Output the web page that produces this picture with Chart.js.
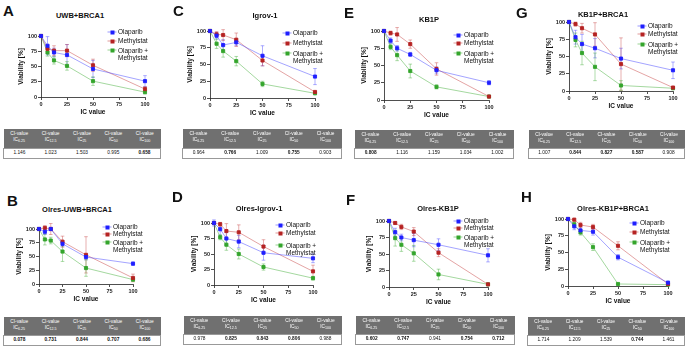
<!DOCTYPE html>
<html>
<head>
<meta charset="utf-8">
<script src="https://cdn.jsdelivr.net/npm/chart.js@4.4.0/dist/chart.umd.min.js"></script>
<style>
  body { margin: 0; width: 685px; height: 346px; position: relative; background: #fff; overflow: hidden;
         font-family: "Liberation Sans", Arial, sans-serif; color: #111; }
  .abs { position: absolute; }
  .letter { font-weight: bold; font-size: 15px; line-height: 15px; }
  .title { font-weight: bold; font-size: 7.5px; line-height: 8px; transform: translate(-50%, -50%); white-space: nowrap; }
  .leg { font-size: 6.5px; line-height: 7.5px; white-space: nowrap; transform: translateY(-50%); }
  .mk { position: absolute; width: 9px; height: 1px; transform: translate(-50%, -50%); }
  .mk i { position: absolute; left: 3px; top: -1.5px; width: 4px; height: 4px; }
  table.ci { position: absolute; border-collapse: collapse; table-layout: fixed; font-size: 4.8px; text-align: center; }
  table.ci th { background: #707070; color: #fff; font-weight: normal; line-height: 5.8px; padding: 0; }
  table.ci td { background: #fff; line-height: 6px; padding: 0; border-top: 1px solid #999; border-bottom: 1px solid #999; }
  table.ci td:first-child { border-left: 1px solid #999; }
  table.ci td:last-child { border-right: 1px solid #999; }
  table.ci sub { font-size: 3.6px; vertical-align: -1px; }
  b.v { font-weight: bold; }
</style>
</head>
<body>
<script>
// x positions (IC value) shared by every panel
const IC = [0, 6.25, 12.5, 25, 50, 100];
const xTicks = [0, 25, 50, 75, 100];
const yTicks = [0, 25, 50, 75, 100];
const icHeads = ["6.25", "12.5", "25", "50", "100"];

// A  UWB+BRCA1
const aOla = [100, 84, 73, 69, 46, 26];   const aOlaErr = [1, 15, 7, 17, 14, 9];
const aMet = [100, 79, 76, 76, 52, 13];   const aMetErr = [1, 5, 8, 10, 10, 4];
const aCom = [100, 73, 60, 51, 26, 8];    const aComErr = [1, 6, 6, 7, 7, 3];
const aCI = ["1.146", "1.023", "1.503", "0.995", "0.658"];
// C  Igrov-1
const cOla = [100, 93, 79, 83, 63, 32];   const cOlaErr = [2, 5, 8, 5, 15, 12];
const cMet = [100, 95, 94, 87, 56, 9];    const cMetErr = [1, 4, 8, 10, 8, 1];
const cCom = [100, 81, 70, 55, 21, 7];    const cComErr = [1, 7, 9, 7, 4, 1];
const cCI = ["0.964", "0.766", "1.009", "0.755", "0.903"];
// E  KB1P
const eOla = [100, 86, 75, 66, 43, 25];   const eOlaErr = [1, 4, 4, 3, 5, 3];
const eMet = [100, 97, 95, 81, 45, 5];    const eMetErr = [1, 3, 10, 6, 9, 1];
const eCom = [100, 77, 65, 42, 19, 5];    const eComErr = [1, 4, 8, 10, 3, 1];
const eCI = ["0.808", "1.116", "1.159", "1.034", "1.002"];
// G  KB1P+BRCA1
const gOla = [100, 78, 68, 62, 47, 30];   const gOlaErr = [1, 10, 14, 14, 15, 12];
const gMet = [100, 97, 91, 82, 39, 5];    const gMetErr = [1, 3, 7, 17, 38, 1];
const gCom = [100, 74, 55, 35, 8, 4];     const gComErr = [1, 10, 17, 20, 7, 1];
const gCI = ["1.007", "0.844", "0.827", "0.587", "0.908"];
// B  Olres-UWB+BRCA1
const bOla = [100, 95, 100, 73, 49, 37];  const bOlaErr = [1, 5, 3, 5, 5, 3];
const bMet = [100, 102, 100, 77, 53, 11]; const bMetErr = [1, 4, 10, 10, 33, 7];
const bCom = [100, 81, 79, 59, 29, 8];    const bComErr = [1, 10, 6, 18, 15, 3];
const bCI = ["0.078", "0.731", "0.844", "0.707", "0.686"];
// D  Olres-Igrov-1
const dOla = [100, 90, 75, 70, 52, 43];   const dOlaErr = [5, 10, 10, 10, 12, 7];
const dMet = [100, 98, 87, 85, 62, 22];   const dMetErr = [1, 3, 12, 12, 11, 10];
const dCom = [100, 77, 65, 50, 29, 11];   const dComErr = [1, 4, 9, 8, 5, 3];
const dCI = ["0.978", "0.825", "0.843", "0.806", "0.988"];
// F  Olres-KB1P
const fOla = [100, 83, 75, 71, 64, 48];   const fOlaErr = [1, 6, 5, 10, 9, 10];
const fMet = [100, 97, 91, 84, 52, 4];    const fMetErr = [1, 2, 4, 6, 6, 1];
const fCom = [100, 74, 64, 51, 19, 4];    const fComErr = [1, 12, 10, 12, 8, 1];
const fCI = ["0.602", "0.747", "0.941", "0.754", "0.712"];
// H  Olres-KB1P+BRCA1
const hOla = [100, 89, 83, 81, 43, 5];    const hOlaErr = [1, 5, 5, 5, 4, 2];
const hMet = [100, 99, 91, 88, 60, 3];    const hMetErr = [1, 2, 4, 4, 6, 1];
const hCom = [100, 92, 80, 58, 3, 2];     const hComErr = [1, 3, 4, 5, 1, 1];
const hCI = ["1.714", "1.209", "1.539", "0.744", "1.461"];

const BLUE = "#1f1fff", RED = "#b52222", GREEN = "#34a52c";
const BLUE_L = "rgba(70,70,255,0.55)", RED_L = "rgba(200,70,70,0.55)", GREEN_L = "rgba(70,175,60,0.55)";

// layout: plot box (x=0..100, y=0..100), letter, title, legend, table
const panels = [
  { letter: "A", lx: 3, ly: 3, title: "UWB+BRCA1", tx: 80, ty: 16, l: 41, r: 145, t: 36, b: 97,
    legX: 112, legY: [32, 41, 50], ola: aOla, olaE: aOlaErr, met: aMet, metE: aMetErr, com: aCom, comE: aComErr,
    ci: aCI, bold: [4], tab: [3, 129, 158, 19, 10] },
  { letter: "C", lx: 173, ly: 3, title: "Igrov-1", tx: 265, ty: 16, l: 210, r: 315, t: 31, b: 98,
    legX: 287, legY: [33, 43, 53], ola: cOla, olaE: cOlaErr, met: cMet, metE: cMetErr, com: cCom, comE: cComErr,
    ci: cCI, bold: [1, 3], tab: [182, 129, 160, 19, 10] },
  { letter: "E", lx: 344, ly: 5, title: "KB1P", tx: 429, ty: 20, l: 384, r: 489, t: 31, b: 100,
    legX: 458, legY: [35, 43, 53], ola: eOla, olaE: eOlaErr, met: eMet, metE: eMetErr, com: eCom, comE: eComErr,
    ci: eCI, bold: [0], tab: [354, 130, 160, 18, 10] },
  { letter: "G", lx: 516, ly: 5, title: "KB1P+BRCA1", tx: 603, ty: 15, l: 569, r: 673, t: 22, b: 91,
    legX: 642, legY: [26, 34, 44], ola: gOla, olaE: gOlaErr, met: gMet, metE: gMetErr, com: gCom, comE: gComErr,
    ci: gCI, bold: [1, 2, 3], tab: [528, 130, 157, 18, 10] },
  { letter: "B", lx: 7, ly: 193, title: "Olres-UWB+BRCA1", tx: 77, ty: 210, l: 39, r: 133, t: 229, b: 284,
    legX: 107, legY: [227, 234, 242], ola: bOla, olaE: bOlaErr, met: bMet, metE: bMetErr, com: bCom, comE: bComErr,
    ci: bCI, bold: [0, 1, 2, 3, 4], tab: [3, 317, 158, 18, 10] },
  { letter: "D", lx: 172, ly: 189, title: "Olres-Igrov-1", tx: 259, ty: 209, l: 214, r: 313, t: 223, b: 285,
    legX: 280, legY: [225, 233, 245], ola: dOla, olaE: dOlaErr, met: dMet, metE: dMetErr, com: dCom, comE: dComErr,
    ci: dCI, bold: [1, 2, 3], tab: [183, 316, 159, 18, 10] },
  { letter: "F", lx: 346, ly: 192, title: "Olres-KB1P", tx: 438, ty: 209, l: 389, r: 488, t: 221, b: 287,
    legX: 458, legY: [221, 228, 237], ola: fOla, olaE: fOlaErr, met: fMet, metE: fMetErr, com: fCom, comE: fComErr,
    ci: fCI, bold: [0, 1, 3, 4], tab: [355, 316, 160, 18, 10] },
  { letter: "H", lx: 521, ly: 189, title: "Olres-KB1P+BRCA1", tx: 613, ty: 209, l: 568, r: 668, t: 219, b: 286,
    legX: 634, legY: [223, 232, 242], ola: hOla, olaE: hOlaErr, met: hMet, metE: hMetErr, com: hCom, comE: hComErr,
    ci: hCI, bold: [3], tab: [527, 317, 158, 18, 10] },
];

const YW = 25, XH = 20, PT = 6, PR = 9;

// draws vertical SD bars with small caps, under the markers
const errorBars = {
  id: "errorBars",
  beforeDatasetsDraw(chart) {
    const { ctx, scales: { x, y } } = chart;
    chart.data.datasets.forEach((ds) => {
      ctx.save();
      ctx.strokeStyle = ds.borderColor;
      ctx.lineWidth = 0.8;
      ds.data.forEach((pt, i) => {
        const e = ds.errors[i];
        const px = x.getPixelForValue(pt.x);
        const y1 = y.getPixelForValue(pt.y + e), y2 = y.getPixelForValue(pt.y - e);
        ctx.beginPath();
        ctx.moveTo(px, y1); ctx.lineTo(px, y2);
        ctx.moveTo(px - 1.8, y1); ctx.lineTo(px + 1.8, y1);
        ctx.moveTo(px - 1.8, y2); ctx.lineTo(px + 1.8, y2);
        ctx.stroke();
      });
      ctx.restore();
    });
  },
};

function series(label, vals, errs, line, mark) {
  return {
    label: label,
    data: vals.map((v, i) => ({ x: IC[i], y: v })),
    errors: errs,
    borderColor: line,
    backgroundColor: mark,
    pointBackgroundColor: mark,
    pointBorderColor: mark,
    pointStyle: "rect",
    pointRadius: 2.2,
    borderWidth: 0.9,
    clip: false,
  };
}

function axis(title, ticks, fit) {
  return {
    type: "linear", min: 0, max: 100,
    afterBuildTicks: (s) => { s.ticks = ticks.map((v) => ({ value: v })); },
    afterFit: fit,
    ticks: { font: { size: 5.5, weight: "bold", family: "Liberation Sans" }, color: "#222", padding: 1, maxRotation: 0 },
    grid: { drawOnChartArea: false, tickLength: 3, color: "#222", lineWidth: 0.8 },
    border: { color: "#222", width: 0.8 },
    title: { display: true, text: title, color: "#111", font: { size: 6.5, weight: "bold", family: "Liberation Sans" }, padding: 1 },
  };
}

function add(cls, x, y, html) {
  const d = document.createElement("div");
  d.className = "abs " + cls;
  d.style.left = x + "px";
  d.style.top = y + "px";
  d.innerHTML = html;
  document.body.appendChild(d);
  return d;
}

panels.forEach((p) => {
  add("letter", p.lx, p.ly, p.letter);
  add("title", p.tx, p.ty, p.title);

  const W = p.r - p.l + YW + PR, H = p.b - p.t + PT + XH;
  const cv = document.createElement("canvas");
  cv.width = W; cv.height = H;
  cv.style.position = "absolute";
  cv.style.left = (p.l - YW) + "px";
  cv.style.top = (p.t - PT) + "px";
  document.body.appendChild(cv);

  new Chart(cv.getContext("2d"), {
    type: "line",
    data: {
      datasets: [
        series("Olaparib", p.ola, p.olaE, BLUE_L, BLUE),
        series("Methylstat", p.met, p.metE, RED_L, RED),
        series("Olaparib + Methylstat", p.com, p.comE, GREEN_L, GREEN),
      ],
    },
    options: {
      responsive: false,
      animation: false,
      layout: { padding: { top: PT, right: PR, left: 0, bottom: 0 } },
      scales: {
        x: axis("IC value", xTicks, (s) => { s.height = XH; }),
        y: axis("Viability [%]", yTicks, (s) => { s.width = YW; }),
      },
      plugins: { legend: { display: false }, tooltip: { enabled: false } },
    },
    plugins: [errorBars],
  });

  // legend
  const cols = [[BLUE_L, BLUE, "Olaparib"], [RED_L, RED, "Methylstat"], [GREEN_L, GREEN, "Olaparib +<br>Methylstat"]];
  cols.forEach((c, i) => {
    const y = p.legY[i];
    const m = add("mk", p.legX, y, "<i></i>");
    m.style.background = c[0];
    m.firstChild.style.background = c[1];
    add("leg", p.legX + 6, y + (i === 2 ? 3.5 : 0), c[2]);
  });

  // CI table
  const [tx, ty, tw, hh, rh] = p.tab;
  const tbl = document.createElement("table");
  tbl.className = "ci";
  tbl.style.left = tx + "px";
  tbl.style.top = ty + "px";
  tbl.style.width = tw + "px";
  let head = "<tr style='height:" + hh + "px'>";
  let row = "<tr style='height:" + rh + "px'>";
  icHeads.forEach((h, i) => {
    head += "<th>CI-value<br>IC<sub>" + h + "</sub></th>";
    const v = p.ci[i];
    row += "<td>" + (p.bold.includes(i) ? "<b class='v'>" + v + "</b>" : v) + "</td>";
  });
  tbl.innerHTML = head + "</tr>" + row + "</tr>";
  document.body.appendChild(tbl);
});
</script>
</body>
</html>
